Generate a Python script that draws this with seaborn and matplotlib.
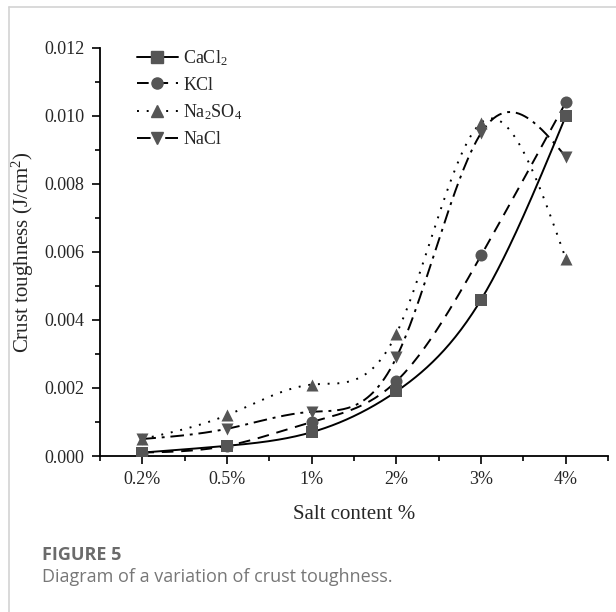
import numpy as np
import pandas as pd
import seaborn as sns
import matplotlib.pyplot as plt
from matplotlib.lines import Line2D
from matplotlib.ticker import MultipleLocator

# data
salt_labels = ['0.2%', '0.5%', '1%', '2%', '3%', '4%']
cacl2 = [0.0001, 0.0003, 0.0007, 0.0019, 0.0046, 0.0100]
kcl = [0.0001, 0.0003, 0.0010, 0.0022, 0.0059, 0.0104]
na2so4 = [0.0005, 0.0012, 0.0021, 0.0036, 0.0098, 0.0058]
nacl = [0.0005, 0.0008, 0.0013, 0.0029, 0.0095, 0.0088]

series = {
    'CaCl$_2$': (cacl2, 's', '-'),
    'KCl': (kcl, 'o', (0, (6, 4))),
    'Na$_2$SO$_4$': (na2so4, '^', (0, (1, 4))),
    'NaCl': (nacl, 'v', (0, (7, 3, 1.5, 3))),
}


def natural_spline(x, y, n=300):
    # smooth line through the points, like the Origin spline connector
    x = np.asarray(x, float)
    y = np.asarray(y, float)
    k = len(x)
    h = np.diff(x)
    A = np.zeros((k, k))
    b = np.zeros(k)
    A[0, 0] = A[-1, -1] = 1
    for i in range(1, k - 1):
        A[i, i - 1] = h[i - 1]
        A[i, i] = 2 * (h[i - 1] + h[i])
        A[i, i + 1] = h[i]
        b[i] = 3 * ((y[i + 1] - y[i]) / h[i] - (y[i] - y[i - 1]) / h[i - 1])
    c = np.linalg.solve(A, b)
    xs = np.linspace(x[0], x[-1], n)
    ys = np.empty_like(xs)
    for j, xv in enumerate(xs):
        i = min(np.searchsorted(x, xv, side='right') - 1, k - 2)
        dx = xv - x[i]
        bb = (y[i + 1] - y[i]) / h[i] - h[i] * (2 * c[i] + c[i + 1]) / 3
        dd = (c[i + 1] - c[i]) / (3 * h[i])
        ys[j] = y[i] + bb * dx + c[i] * dx ** 2 + dd * dx ** 3
    return xs, ys


sns.set_style('white')
plt.rcParams['font.family'] = ['Liberation Serif', 'DejaVu Serif']
plt.rcParams['mathtext.fontset'] = 'custom'
plt.rcParams['mathtext.rm'] = 'Liberation Serif'
plt.rcParams['mathtext.it'] = 'Liberation Serif:italic'
plt.rcParams['mathtext.bf'] = 'Liberation Serif:bold'

fig = plt.figure(figsize=(6.16, 6.12), dpi=100)
ax = fig.add_axes([0.1623, 0.2549, 0.825, 0.6667])

pos = np.arange(len(salt_labels))
mcolor = '#555555'
handles = []
for name, (vals, marker, ls) in series.items():
    xs, ys = natural_spline(pos, vals)
    sns.lineplot(x=xs, y=ys, ax=ax, color='black', linewidth=1.4,
                 linestyle=ls, sort=False)
    sns.scatterplot(x=pos, y=vals, ax=ax, marker=marker, color=mcolor,
                    s=75, edgecolor=mcolor, linewidth=0, zorder=5)
    handles.append(Line2D([], [], color='black', linestyle=ls, linewidth=1.4,
                          marker=marker, markersize=8, markerfacecolor=mcolor,
                          markeredgecolor=mcolor, label=name))

ax.set_xlim(-0.5, 5.5)
ax.set_ylim(0, 0.012)
ax.set_xticks(pos)
ax.set_xticklabels(salt_labels)
ax.xaxis.set_minor_locator(MultipleLocator(0.5))
ax.yaxis.set_major_locator(MultipleLocator(0.002))
ax.yaxis.set_minor_locator(MultipleLocator(0.001))
ax.yaxis.set_major_formatter(plt.FuncFormatter(lambda v, p: f'{v:.3f}'))
ax.tick_params(which='major', direction='out', length=6, width=1.2,
               labelsize=13, left=True, bottom=True, color='black', pad=5)
ax.tick_params(which='minor', direction='out', length=3.5, width=1.2,
               left=True, bottom=True, color='black')
for side in ['top', 'right']:
    ax.spines[side].set_visible(False)
for side in ['left', 'bottom']:
    ax.spines[side].set_color('black')
    ax.spines[side].set_linewidth(1.3)

ax.set_xlabel('Salt content %', fontsize=15, labelpad=12)
ax.set_ylabel('Crust toughness (J/cm$^2$)', fontsize=15, labelpad=6)

ax.legend(handles=handles, loc='upper left', bbox_to_anchor=(0.04, 1.04),
          frameon=False, fontsize=13, handlelength=2.3, handletextpad=0.3,
          labelspacing=0.5)

# caption and page frame from the source screenshot
fig.text(0.068, 0.093, 'FIGURE 5', fontsize=13, fontweight='bold', va='center',
         color='#6b6b6b', family=['Open Sans', 'DejaVu Sans'])
fig.text(0.068, 0.057, 'Diagram of a variation of crust toughness.', fontsize=13,
         va='center', color='#777777', family=['Open Sans', 'DejaVu Sans'])
fig.add_artist(Line2D([0.0146, 1.0], [0.988, 0.988], color='#d3d3d3', lw=1.2,
                      transform=fig.transFigure))
fig.add_artist(Line2D([0.0146, 0.0146], [0.0, 0.988], color='#d3d3d3', lw=1.2,
                      transform=fig.transFigure))

fig.savefig('out.png', dpi=100)
